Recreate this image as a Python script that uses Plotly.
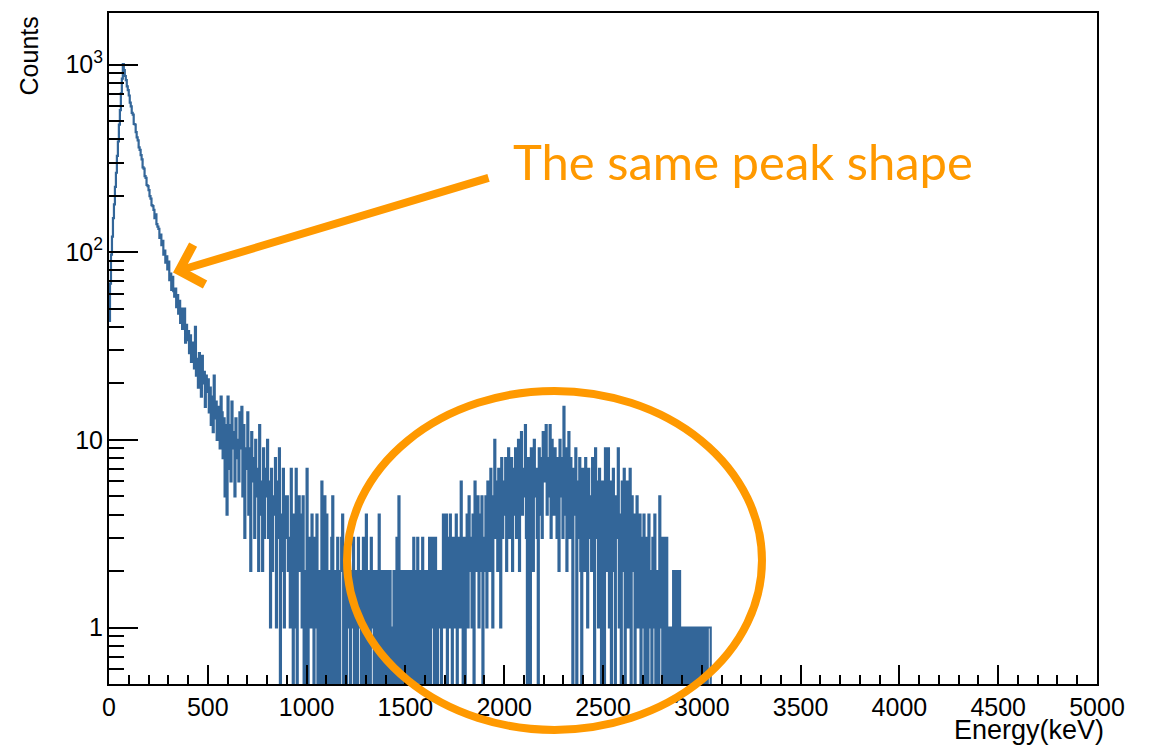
import numpy as np
import plotly.graph_objects as go

# Energy spectrum, 5 keV bins starting at 0 keV
bin_width_kev = 5

counts_0000_0500 = [
    43, 68, 97, 121, 152, 180, 223, 265, 326, 389, 478, 571, 702, 841, 1004, 934, 869, 826, 764, 731,
    684, 627, 598, 553, 541, 482, 479, 436, 409, 394, 362, 351, 329, 312, 283, 279, 254, 249, 228, 225,
    214, 199, 193, 178, 176, 168, 152, 159, 141, 137, 133, 119, 124, 109, 115, 97, 102, 88, 95, 81,
    89, 71, 77, 63, 74, 62, 58, 64, 51, 59, 47, 55, 42, 50, 39, 46, 50, 33, 41, 34,
    38, 29, 36, 26, 31, 33, 24, 40, 22, 27, 19, 29, 21, 17, 28, 20, 23, 15, 22, 18,
]
counts_0500_1000 = [
    21, 14, 19, 12, 17, 11, 22, 13, 16, 10, 15, 12, 9, 17, 14, 8, 13, 5, 12, 4,
    17, 7, 12, 6, 16, 9, 11, 5, 13, 8, 10, 6, 14, 9, 15, 5, 12, 3, 9, 7,
    14, 4, 9, 2, 11, 6, 8, 3, 10, 5, 7, 2, 12, 4, 6, 2, 9, 3, 5, 7,
    10, 3, 6, 1, 7, 2, 5, 4, 8, 1, 6, 3, 9, 0, 4, 2, 7, 1, 5, 3,
    5, 2, 3, 1, 7, 2, 0, 4, 1, 7, 0, 3, 5, 2, 4, 1, 5, 0, 2, 0,
]
counts_1000_1500 = [
    7, 0, 3, 2, 1, 4, 2, 0, 3, 1, 4, 0, 2, 0, 1, 6, 0, 2, 5, 0,
    4, 0, 2, 1, 0, 3, 5, 0, 1, 2, 0, 3, 1, 0, 2, 3, 4, 0, 1, 2,
    0, 2, 3, 1, 0, 2, 1, 3, 0, 1, 2, 0, 3, 1, 2, 0, 1, 3, 0, 2,
    4, 0, 1, 2, 0, 3, 1, 2, 0, 1, 2, 0, 1, 4, 0, 2, 1, 0, 2, 1,
    0, 2, 1, 0, 2, 1, 0, 1, 2, 0, 1, 3, 0, 5, 1, 0, 2, 1, 0, 2,
]
counts_1500_2000 = [
    1, 0, 2, 1, 0, 2, 1, 0, 3, 1, 0, 2, 3, 0, 1, 2, 0, 3, 1, 0,
    2, 1, 0, 2, 3, 0, 1, 3, 2, 0, 3, 1, 0, 2, 1, 2, 0, 2, 4, 1,
    2, 4, 0, 3, 1, 4, 2, 0, 3, 1, 2, 4, 0, 3, 2, 1, 6, 2, 0, 3,
    0, 2, 4, 1, 5, 2, 3, 1, 4, 0, 6, 2, 3, 5, 1, 4, 2, 5, 0, 3,
    2, 5, 1, 6, 3, 2, 7, 4, 1, 5, 10, 3, 6, 2, 7, 4, 1, 8, 3, 6,
]
counts_2000_2500 = [
    4, 8, 2, 6, 9, 3, 5, 8, 2, 7, 4, 9, 3, 6, 10, 2, 5, 11, 4, 7,
    5, 12, 3, 0, 8, 4, 0, 9, 6, 2, 10, 5, 7, 3, 0, 9, 4, 8, 3, 11,
    6, 9, 12, 4, 8, 5, 12, 3, 10, 6, 4, 9, 7, 3, 8, 2, 10, 5, 8, 3,
    15, 4, 9, 2, 7, 11, 3, 8, 5, 0, 7, 4, 9, 0, 6, 3, 8, 2, 0, 7,
    6, 2, 8, 4, 1, 7, 3, 5, 2, 8, 4, 0, 9, 3, 6, 1, 7, 4, 0, 6,
]
counts_2500_3050 = [
    3, 0, 9, 5, 2, 9, 1, 6, 0, 4, 7, 2, 0, 5, 3, 9, 1, 4, 0, 6,
    2, 7, 0, 4, 6, 1, 3, 7, 0, 5, 2, 4, 0, 3, 5, 1, 2, 4, 0, 3,
    1, 4, 0, 2, 3, 0, 4, 1, 2, 0, 3, 1, 4, 0, 2, 1, 0, 5, 1, 3,
    0, 3, 1, 0, 3, 0, 1, 0, 1, 0, 1, 2, 0, 1, 2, 0, 1, 2, 0, 1,
    0, 1, 0, 1, 1, 0, 1, 0, 1, 0, 1, 1, 0, 1, 0, 1, 0, 1, 0, 1,
    1, 0, 1, 0, 1, 0, 1, 1, 1, 0,
]

x_tick_values = [0, 500, 1000, 1500, 2000, 2500, 3000, 3500, 4000, 4500, 5000]
x_range = [0, 5000]
y_range = [0.5, 1882]

counts = np.array(
    counts_0000_0500 + counts_0500_1000 + counts_1000_1500
    + counts_1500_2000 + counts_2000_2500 + counts_2500_3050,
    dtype=float,
)
edges = np.arange(len(counts) + 1) * bin_width_kev
levels = np.append(counts, counts[-1])
# empty bins fall below the bottom of the log axis, like a ROOT histogram
levels = np.where(levels > 0, levels, 1e-3)

hist_color = "#336699"
accent = "#FF9900"

fig = go.Figure()
fig.add_trace(go.Scatter(
    x=edges, y=levels, mode="lines",
    line=dict(color=hist_color, width=2.2, shape="hv", simplify=False),
    hoverinfo="skip",
))

fig.update_layout(
    width=1160, height=746,
    margin=dict(l=109, r=63, t=11, b=62),
    paper_bgcolor="white", plot_bgcolor="white",
    showlegend=False,
    font=dict(family="Liberation Sans, Arial, sans-serif", color="black", size=25),
)
fig.update_xaxes(
    range=x_range, tickvals=x_tick_values,
    ticks="inside", ticklen=19, tickwidth=2, tickcolor="black",
    showline=True, linecolor="black", linewidth=2, mirror=True,
    showgrid=False, zeroline=False,
    tickfont=dict(size=25),
    minor=dict(dtick=100, ticks="inside", ticklen=9, tickwidth=2,
               tickcolor="black", showgrid=False),
)
fig.update_yaxes(
    type="log", range=[np.log10(y_range[0]), np.log10(y_range[1])],
    dtick=1, exponentformat="power",
    ticks="inside", ticklen=29, tickwidth=2, tickcolor="black",
    showline=True, linecolor="black", linewidth=2, mirror=True,
    showgrid=False, zeroline=False,
    tickfont=dict(size=20),
    minor=dict(dtick="D1", ticks="inside", ticklen=15, tickwidth=2,
               tickcolor="black", showgrid=False),
)

# axis titles, ROOT style (right/top aligned)
fig.add_annotation(
    text="Counts", textangle=-90, showarrow=False,
    xref="paper", yref="paper", x=-0.081, y=0.9985,
    xanchor="center", yanchor="top",
    font=dict(size=25, color="black"),
)
fig.add_annotation(
    text="Energy(keV)", showarrow=False, borderpad=0,
    xref="paper", yref="paper", x=1.008, y=-0.0921,
    xanchor="right", yanchor="bottom",
    font=dict(size=27, color="black"),
)

# callout arrow onto the falling edge of the low-energy peak
fig.add_annotation(
    text="", xref="x", yref="y", x=324, y=np.log10(78),
    ax=317, ay=-95, showarrow=True,
    arrowhead=4, arrowsize=1, arrowwidth=8, arrowcolor=accent, standoff=0,
)
fig.add_annotation(
    text="The same peak shape", showarrow=False,
    xref="paper", yref="paper", x=(511 - 109) / 988, y=(684 - 128) / 673,
    xanchor="left", yanchor="top",
    font=dict(family="Lato, Open Sans, sans-serif", size=49, color=accent),
)

# ring around the high-energy bump
fig.add_shape(
    type="circle", xref="paper", yref="paper",
    x0=0.2409, x1=0.6609, y0=-0.0684, y1=0.4368,
    line=dict(color=accent, width=8),
)

fig.write_html("out.html")
